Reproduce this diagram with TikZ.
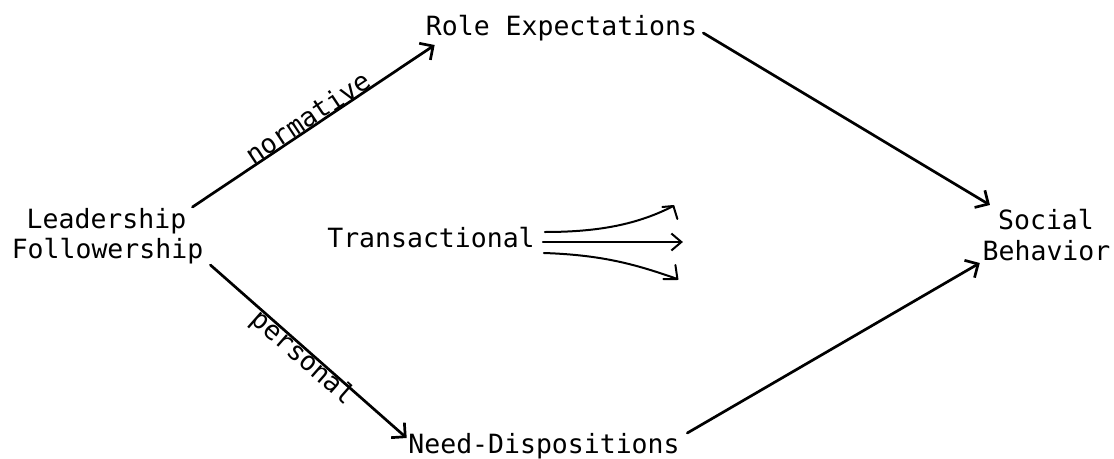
\documentclass[tikz,border=0pt]{standalone}
\usepackage{fontspec}
\newfontfamily\typewriter{DejaVu Sans Mono}
\usetikzlibrary{arrows.meta,calc}

\begin{document}
\begin{tikzpicture}[x=1pt,y=-1pt,
  lbl/.style={font=\typewriter\fontsize{26.5}{31}\selectfont, inner sep=0pt, anchor=base},
  edgelbl/.style={font=\typewriter\fontsize{26.5}{31}\selectfont, inner xsep=0pt, outer sep=0pt},
  link/.style={line width=2.7pt, line cap=round, line join=round,
    -{Straight Barb[length=10pt,width=20pt]}},
  flow/.style={line width=2pt, line cap=round, line join=round},
]
\useasboundingbox (0,0) rectangle (1114,458);

% concepts
\node[lbl] (lead)  at (106.5,228) {Leadership};
\node[lbl] (fol)   at (107.5,258) {Followership};
\node[lbl] (role)  at (561.5,35)  {Role Expectations};
\node[lbl] (trans) at (431,247)   {Transactional};
\node[lbl] (need)  at (544,453)   {Need-Dispositions};
\node[lbl] (soc)   at (1046,229)  {Social};
\node[lbl] (beh)   at (1046.5,260) {Behavior};

% the two dimensions
\draw[link] ($(lead.base east)+(6,-21)$)
  -- node[edgelbl, pos=0.5, rotate=33.6, anchor=south, inner ysep=0.5pt] {normative}
  ($(role.base west)+(9,10)$);
\draw[link] ($(fol.base east)+(7,7)$)
  -- node[edgelbl, pos=0.5, rotate=-41.3, anchor=north, inner ysep=2pt,
          text height=14.4pt] {personal}
  ($(need.base west)+(-1.5,-15)$);

% into social behavior
\draw[link] ($(role.base east)+(6,-2)$) -- ($(soc.base west)+(-8,-24)$);
\draw[link] ($(need.base east)+(7.5,-20)$) -- ($(beh.base west)+(-2.7,3)$);

% transactional mode
\coordinate (tUp)  at ($(trans.base east)+(138.5,-41)$);
\coordinate (tMid) at ($(trans.base east)+(148,-5)$);
\coordinate (tLow) at ($(trans.base east)+(142.5,32)$);

\draw[flow] ($(trans.base east)+(10,-15)$) .. controls +(55,0) and +(-35,18) .. (tUp);
\draw[flow] (tUp) ++(-11,1) -- (tUp) -- ++(4,13);

\draw[flow, -{Straight Barb[length=10pt,width=17pt]}] ($(trans.base east)+(8,-5)$) -- (tMid);

\draw[flow] ($(trans.base east)+(9,6)$) .. controls +(60,2) and +(-40,-14) .. (tLow);
\draw[flow] (tLow) ++(-2,-14) -- (tLow) -- ++(-14,0);
\end{tikzpicture}
\end{document}
